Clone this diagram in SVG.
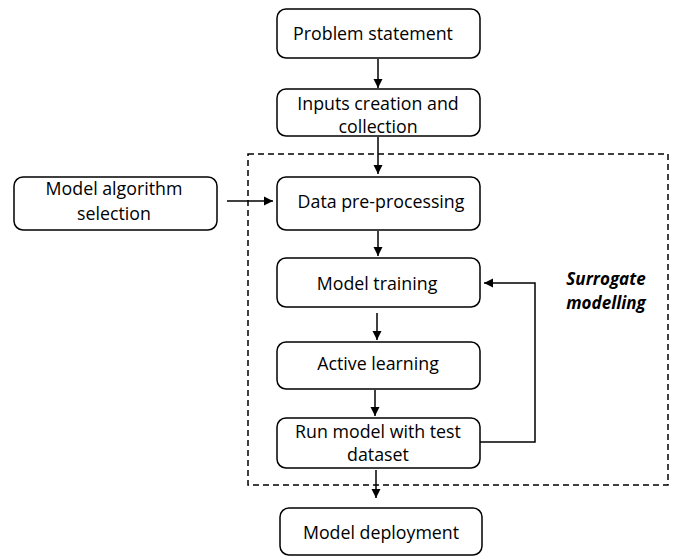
<svg xmlns="http://www.w3.org/2000/svg" width="673" height="557" viewBox="0 0 673 557">
<style>
.box{fill:#fff;stroke:#000;stroke-width:1.5}
.t{font-family:"Open Sans","Liberation Sans",sans-serif;font-size:17.8px;fill:#000;text-anchor:middle}
.lbl{font-family:"Open Sans","Liberation Sans",sans-serif;font-size:17px;font-weight:bold;font-style:italic;fill:#000;text-anchor:middle}
.c{fill:none;stroke:#000;stroke-width:1.5}
</style>
<defs>
<marker id="ah" markerWidth="10" markerHeight="10" refX="9" refY="5" orient="auto" markerUnits="userSpaceOnUse">
<path d="M0,0.5 L9,5 L0,9.5 Z" fill="#000"/>
</marker>
</defs>
<rect x="248" y="154" width="420" height="331" fill="none" stroke="#000" stroke-width="1.5" stroke-dasharray="6,4"/>
<g id="connectors">
<line class="c" x1="378" y1="59" x2="378" y2="88" marker-end="url(#ah)"/>
<line class="c" x1="378" y1="137" x2="378" y2="174" marker-end="url(#ah)"/>
<line class="c" x1="227" y1="201" x2="273" y2="201" marker-end="url(#ah)"/>
<line class="c" x1="378" y1="231" x2="378" y2="256" marker-end="url(#ah)"/>
<line class="c" x1="377" y1="313" x2="377" y2="340" marker-end="url(#ah)"/>
<line class="c" x1="375" y1="390" x2="375" y2="416" marker-end="url(#ah)"/>
<polyline class="c" points="480,442 535,442 535,283 484,283" marker-end="url(#ah)"/>
<line class="c" x1="376" y1="470" x2="376" y2="498" marker-end="url(#ah)"/>
</g>
<g id="n1"><rect class="box" x="277" y="9" width="203" height="49" rx="9"/><text class="t" x="373" y="40">Problem statement</text></g>
<g id="n2"><rect class="box" x="277" y="89" width="203" height="47" rx="9"/><text class="t" x="378" y="110">Inputs creation and</text><text class="t" x="378" y="133">collection</text></g>
<g id="n3"><rect class="box" x="14" y="177" width="203" height="53" rx="9"/><text class="t" x="114" y="195">Model algorithm</text><text class="t" x="114" y="220">selection</text></g>
<g id="n4"><rect class="box" x="277" y="177" width="203" height="53" rx="9"/><text class="t" x="381" y="208">Data pre-processing</text></g>
<g id="n5"><rect class="box" x="277" y="258" width="203" height="49" rx="9"/><text class="t" x="377" y="290">Model training</text></g>
<g id="n6"><rect class="box" x="277" y="342" width="203" height="47" rx="9"/><text class="t" x="378" y="370">Active learning</text></g>
<g id="n7"><rect class="box" x="277" y="418" width="203" height="50" rx="9"/><text class="t" x="378" y="438">Run model with test</text><text class="t" x="378" y="461">dataset</text></g>
<g id="n8"><rect class="box" x="280" y="508" width="202" height="47" rx="9"/><text class="t" x="381" y="539">Model deployment</text></g>
<g id="label"><text class="lbl" x="606" y="285">Surrogate</text><text class="lbl" x="606" y="309">modelling</text></g>
</svg>
